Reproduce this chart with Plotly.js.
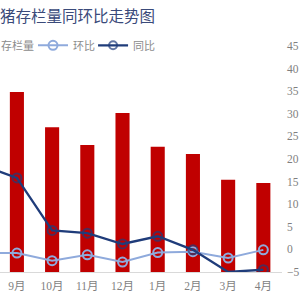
<!DOCTYPE html>
<html>
<head>
<meta charset="utf-8">
<script src="https://cdn.plot.ly/plotly-3.0.1.min.js"></script>
<style>
html,body{margin:0;padding:0;background:#fff;}
#chart{width:300px;height:300px;}
</style>
</head>
<body>
<div id="chart"></div>
<script>
// Months (8月 lies just off the left edge of the crop)
const months = ['8月','9月','10月','11月','12月','1月','2月','3月','4月'];
// 存栏量 (bars, left axis – hidden)
const stock = [null, 39.8, 32.0, 28.1, 35.2, 27.7, 26.1, 20.4, 19.7];
// 环比 (%)
const mom = [-0.8, -0.8, -2.5, -1.2, -2.8, -0.7, -0.5, -1.9, -0.1];
// 同比 (%)
const yoy = [18.7, 15.8, 4.2, 3.6, 1.2, 2.9, -0.1, -5.0, -4.5];
// right-axis ticks
const pctTicks = [-5, 0, 5, 10, 15, 20, 25, 30, 35, 40, 45];

const serif = 'Liberation Serif, "Noto Sans CJK SC", serif';

const traces = [
  {
    type: 'bar', name: '存栏量', x: months, y: stock, yaxis: 'y', legend: 'legend',
    marker: {color: '#C00000'}, hoverinfo: 'skip'
  },
  {
    type: 'scatter', mode: 'lines+markers', name: '环比', x: months, y: mom, yaxis: 'y2', legend: 'legend2',
    line: {color: '#8FAADC', width: 2},
    marker: {symbol: 'circle-open', size: 9, color: '#8FAADC', line: {width: 2}}
  },
  {
    type: 'scatter', mode: 'lines+markers', name: '同比', x: months, y: yoy, yaxis: 'y2', legend: 'legend3',
    line: {color: '#1F3C7A', width: 2.3},
    marker: {symbol: 'circle-open', size: yoy.map(v => v <= -5 ? 0 : 9), color: '#1F3C7A', line: {width: 2}}
  }
];

const legendBase = (x) => ({
  orientation: 'h', x: x, xanchor: 'left', y: 1.003, yanchor: 'middle',
  font: {family: serif, size: 11, color: '#8C8C8C'},
  bgcolor: 'rgba(0,0,0,0)', itemclick: false
});

const layout = {
  width: 300, height: 300,
  margin: {l: 0, r: 18, t: 46, b: 28, pad: 0, autoexpand: false},
  paper_bgcolor: '#fff', plot_bgcolor: '#fff',
  bargap: 0.6,
  showlegend: true,
  title: {
    text: '猪存栏量同环比走势图',
    font: {family: '"Noto Sans CJK SC", sans-serif', size: 15.5, color: '#3A4A7A'},
    x: 0, xref: 'paper', xanchor: 'left',
    y: 0.945, yref: 'container', yanchor: 'middle'
  },
  legend: legendBase(-0.138),
  legend2: legendBase(0.117),
  legend3: legendBase(0.330),
  xaxis: {
    type: 'category', range: [0.52, 8.53],
    showline: true, linecolor: '#D9D9D9', linewidth: 1,
    showgrid: false, zeroline: false, ticks: '', ticklabelstandoff: 3,
    tickfont: {family: serif, size: 11.5, color: '#7F7F7F'}
  },
  yaxis: {
    range: [0, 50], visible: false, showgrid: false, zeroline: false
  },
  yaxis2: {
    overlaying: 'y', side: 'right', range: [-5, 45],
    tickvals: pctTicks, ticksuffix: '%',
    showgrid: false, zeroline: false, showline: false, ticks: '', ticklabelstandoff: 4,
    tickfont: {family: serif, size: 11.5, color: '#7F7F7F'}
  }
};

Plotly.newPlot('chart', traces, layout, {staticPlot: true, displayModeBar: false});
</script>
</body>
</html>
